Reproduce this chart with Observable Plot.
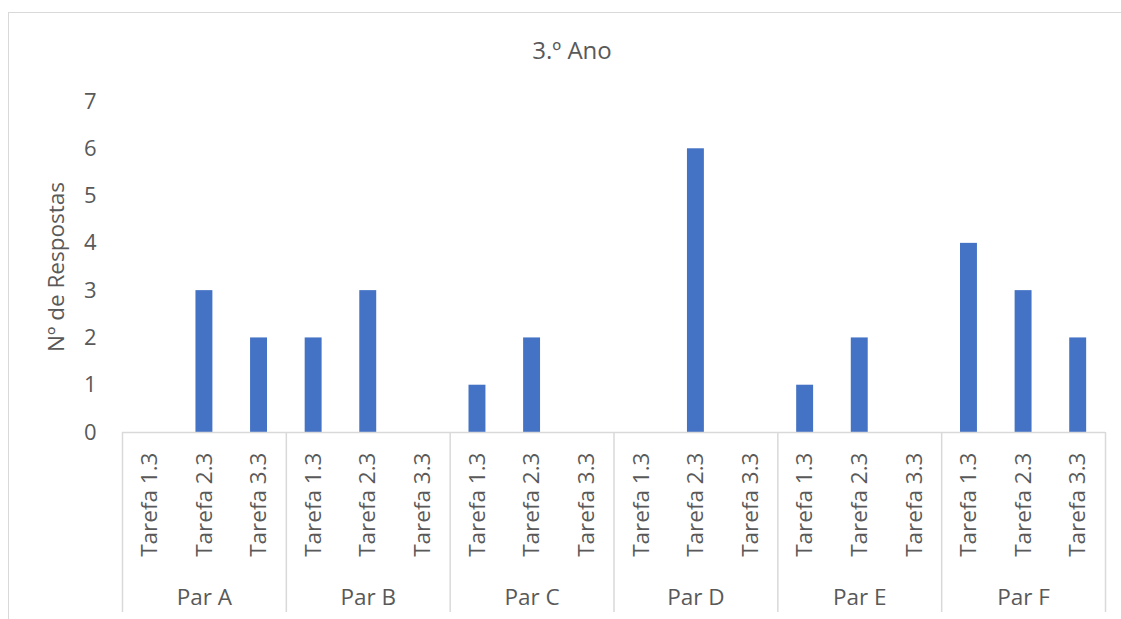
<!DOCTYPE html>
<html><head><meta charset="utf-8">
<script src="https://cdn.jsdelivr.net/npm/d3@7"></script>
<script src="https://cdn.jsdelivr.net/npm/@observablehq/plot@0.6"></script>
<style>
body{margin:0;background:#fff;}
#wrap{position:relative;width:1121px;height:619px;overflow:hidden;}
#border{position:absolute;left:8px;top:12px;width:1200px;height:700px;border:1px solid #d9d9d9;}
#chart{position:absolute;left:0;top:0;}
#chart svg text{font-family:'Open Sans',sans-serif !important;}
g[aria-label="x-axis tick label"], g[aria-label="x-axis tick label"] text{font-size:22.5px !important;}
g[aria-label="y-axis tick label"], g[aria-label="y-axis tick label"] text{font-size:22px !important;}
g[aria-label="y-axis label"], g[aria-label="y-axis label"] text{font-size:22.5px !important;}
</style></head><body>
<div id="wrap"><div id="border"></div><div id="chart"></div></div>
<script>
const pairs = ["Par A","Par B","Par C","Par D","Par E","Par F"];
const tasks = ["Tarefa 1.3","Tarefa 2.3","Tarefa 3.3"];
const values = [[0,3,2],[2,3,0],[1,2,0],[0,6,0],[1,2,0],[4,3,2]];
const yTicks = [0,1,2,3,4,5,6,7];
const title = "3.º Ano";
const yLabel = "Nº de Respostas";

const data = pairs.flatMap((p,i)=>tasks.map((t,j)=>({key:p+"|"+t, pair:p, task:t, value:values[i][j]})));
const keys = data.map(d=>d.key);

const W = 1121, H = 619, mL = 122, mR = 16, mT = 101, mB = 187;
const step = (W - mL - mR) / keys.length;
const txt = "#595959", grid = "#d9d9d9";

const groupStarts = pairs.map(p => p+"|"+tasks[0]);
const groupMids = pairs.map(p => ({key:p+"|"+tasks[1], pair:p}));
const lastKey = keys[keys.length-1];

const plot = Plot.plot({
  width: W, height: H,
  marginLeft: mL, marginRight: mR, marginTop: mT, marginBottom: mB,
  style: {color: txt, background: "transparent", overflow: "visible"},
  x: {domain: keys, paddingInner: 0.69, paddingOuter: 0.345, round: false, label: null},
  y: {domain: [0,7], label: null},
  marks: [
    Plot.axisY({ticks: yTicks, tickFormat: "d", tickSize: 0, tickPadding: 26, label: yLabel, labelAnchor: "center", labelOffset: 74, fill: txt, labelArrow: "none"}),
    Plot.axisX({tickSize: 0, tickRotate: -90, tickPadding: 20, tickFormat: k => k.split("|")[1], fill: txt, label: null}),
    Plot.barY(data.filter(d=>d.value>0), {x: "key", y: "value", fill: "#4472C4"}),
    Plot.ruleY([0], {stroke: grid, strokeWidth: 1.5}),
    Plot.ruleX(groupStarts, {x: d=>d, y1: 0, y2: 0, insetBottom: -180, dx: -step/2, stroke: grid, strokeWidth: 1.5}),
    Plot.ruleX([lastKey], {x: d=>d, y1: 0, y2: 0, insetBottom: -180, dx: step/2, stroke: grid, strokeWidth: 1.5}),
    Plot.text(groupMids, {x: "key", y: () => 0, text: "pair", dy: 165, fill: txt, fontSize: 22.5}),
    Plot.text([title], {frameAnchor: "top", dy: -60, dx: -42, text: d=>d, fill: txt, fontSize: 24})
  ]
});
document.getElementById("chart").appendChild(plot);
</script>
</body></html>
